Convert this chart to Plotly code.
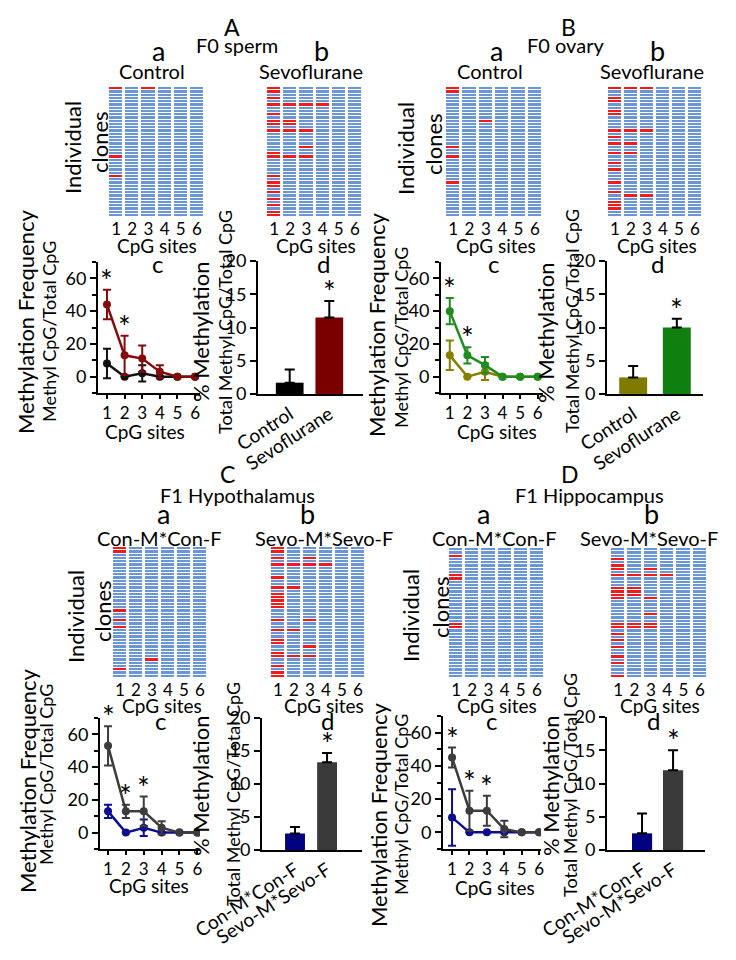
import plotly.graph_objects as go

# the page body keeps its 8px margin, so the figure is drawn 8px in from the corner
PAGE_W, PAGE_H, BODY = 736, 960, 8
W, H = PAGE_W - BODY, PAGE_H - BODY
FONT = "Lato"

sites = [1, 2, 3, 4, 5, 6]
n_clones = 40

# methylated clones (row index, 0 = top) for each CpG site, per clone map
A_ctrl_red = {1: [0, 21, 27], 3: [0]}
A_sevo_red = {1: [0, 1, 3, 5, 8, 10, 11, 13, 20, 21, 27, 29, 30, 32, 34, 36, 38, 39],
              2: [5, 10, 11, 13, 21], 3: [5, 13, 18, 21], 4: [5]}
B_ctrl_red = {1: [0, 1, 18, 21, 29], 3: [10]}
B_sevo_red = {1: [0, 3, 4, 7, 8, 13, 15, 17, 20, 23, 25, 29, 32, 35, 36, 37],
              2: [0, 13, 17, 20, 33], 3: [0, 13, 33]}
C_ctrl_red = {1: [0, 1, 19, 22, 24, 37], 3: [34]}
C_sevo_red = {1: [0, 1, 3, 5, 9, 12, 14, 15, 16, 17, 18, 22, 25, 28, 29, 32, 33, 36, 38, 39],
              2: [5, 12, 25, 33], 3: [3, 5, 22, 30, 33], 4: [5]}
D_ctrl_red = {1: [2, 8, 9, 23, 24]}
D_sevo_red = {1: [3, 5, 6, 8, 12, 13, 14, 15, 23, 24, 26, 28, 30, 33, 35, 39],
              2: [8, 12, 13, 14, 23, 24], 3: [6, 8, 15, 20, 23, 24], 4: [8]}

# methylation frequency per CpG site (mean, error)
A_ctrl_mean = [8, 0, 2, 0, 0, 0]
A_ctrl_err = [9, 0, 5, 0, 0, 0]
A_sevo_mean = [44, 13, 11, 3, 0, 0]
A_sevo_err = [9, 12, 8, 4, 0, 0]
B_ctrl_mean = [13, 0, 3, 0, 0, 0]
B_ctrl_err = [9, 0, 5, 0, 0, 0]
B_sevo_mean = [40, 13, 7, 0, 0, 0]
B_sevo_err = [8, 5, 5, 0, 0, 0]
C_ctrl_mean = [13, 0, 3, 0, 0, 0]
C_ctrl_err = [4, 0, 5, 0, 0, 0]
C_sevo_mean = [53, 13, 13, 3, 0, 0]
C_sevo_err = [12, 4, 9, 4, 0, 0]
D_ctrl_mean = [9, 0, 0, 0, 0, 0]
D_ctrl_err = [17, 0, 0, 0, 0, 0]
D_sevo_mean = [45, 13, 13, 2, 0, 0]
D_sevo_err = [6, 12, 9, 5, 0, 0]

# total % methylation (mean, error)
F0_groups = ["Control", "Sevoflurane"]
F1_groups = ["Con-M*Con-F", "Sevo-M*Sevo-F"]
A_bar = [1.7, 11.5]
A_bar_err = [2.0, 2.5]
B_bar = [2.5, 10.0]
B_bar_err = [1.7, 1.3]
C_bar = [2.5, 13.3]
C_bar_err = [1.0, 1.4]
D_bar = [2.5, 12.0]
D_bar_err = [3.0, 3.0]

# significant sites (stars)
A_star_sites = [1, 2]
B_star_sites = [1, 2]
C_star_sites = [1, 2, 3]
D_star_sites = [1, 2, 3]

BLUE = "#6a96d6"
RED = "#f01c1c"


def px(x):
    return (x - BODY) / W


def py(y):
    return 1 - (y - BODY) / H


fig = go.Figure()
layout = {}
annotations = []
counter = [0]


def new_axes(box, xaxis, yaxis):
    counter[0] += 1
    n = counter[0]
    sx = "" if n == 1 else str(n)
    x0, x1, y0, y1 = box
    xaxis.update(domain=[px(x0), px(x1)], anchor="y" + sx, automargin=False)
    yaxis.update(domain=[py(y1), py(y0)], anchor="x" + sx, automargin=False)
    layout["xaxis" + sx] = xaxis
    layout["yaxis" + sx] = yaxis
    return "x" + sx, "y" + sx


def text(s, x, y, size, angle=0):
    annotations.append(dict(text=s, x=px(x), y=py(y), xref="paper", yref="paper",
                            xanchor="center", yanchor="middle",
                            showarrow=False, textangle=angle,
                            font=dict(size=size, color="black", family=FONT)))


def clone_map(box, red):
    z = [[1 if r in red.get(s, []) else 0 for s in sites] for r in range(n_clones)]
    xa, ya = new_axes(
        box,
        dict(range=[0.5, 6.5], tickvals=sites, showline=False, showgrid=False,
             zeroline=False, ticks="", tickfont=dict(size=17)),
        dict(range=[n_clones - 0.5, -0.5], visible=False),
    )
    fig.add_trace(go.Heatmap(z=z, x=sites, y=list(range(n_clones)), zmin=0, zmax=1,
                             colorscale=[[0, BLUE], [1, RED]], showscale=False,
                             xgap=3, ygap=1, hoverinfo="skip", xaxis=xa, yaxis=ya))


def freq_plot(box, xr, series, star_sites):
    xa, ya = new_axes(
        box,
        dict(range=xr, tickvals=sites, showline=True, linewidth=2, linecolor="black",
             ticks="outside", ticklen=4, tickwidth=2, tickcolor="black",
             showgrid=False, zeroline=False, tickfont=dict(size=17)),
        dict(range=[-10, 70], tick0=0, dtick=20, showline=True, linewidth=2,
             linecolor="black", ticks="outside", ticklen=6, tickwidth=2,
             tickcolor="black", showgrid=False, zeroline=False, tickfont=dict(size=18),
             minor=dict(dtick=10, tick0=0, ticks="outside", ticklen=4, tickwidth=2,
                        tickcolor="black")),
    )
    for mean, err, color in series:
        fig.add_trace(go.Scatter(
            x=sites, y=mean, mode="lines+markers", xaxis=xa, yaxis=ya,
            line=dict(color=color, width=2.5), marker=dict(color=color, size=8),
            error_y=dict(type="data", array=err, color=color, thickness=2, width=4),
            showlegend=False, hoverinfo="skip"))
    top = [max(s[0][i] + s[1][i] for s in series) for i in range(len(sites))]
    for s in star_sites:
        annotations.append(dict(text="*", x=s, y=top[s - 1], xref=xa, yref=ya,
                                xanchor="center", yanchor="bottom", showarrow=False,
                                yshift=-10, font=dict(size=30, color="black", family=FONT)))


def total_plot(box, xr, groups, vals, errs, colors, width):
    xa, ya = new_axes(
        box,
        dict(range=xr, tickvals=[0, 1], ticktext=groups, tickangle=-33,
             showline=True, linewidth=2, linecolor="black", ticks="",
             showgrid=False, zeroline=False, tickfont=dict(size=19)),
        dict(range=[0, 20], dtick=5, showline=True, linewidth=2, linecolor="black",
             ticks="outside", ticklen=6, tickwidth=2, tickcolor="black",
             showgrid=False, zeroline=False, tickfont=dict(size=18)),
    )
    fig.add_trace(go.Bar(
        x=[0, 1], y=vals, width=width, marker=dict(color=colors, line=dict(width=0)),
        error_y=dict(type="data", array=errs, arrayminus=[0, 0], symmetric=False,
                     color="black", thickness=2, width=5),
        xaxis=xa, yaxis=ya, showlegend=False, hoverinfo="skip"))
    annotations.append(dict(text="*", x=1, y=vals[1] + errs[1], xref=xa, yref=ya,
                            xanchor="center", yanchor="bottom", showarrow=False,
                            yshift=-10, font=dict(size=30, color="black", family=FONT)))


# ---- panel A: F0 sperm ------------------------------------------------------
clone_map((108, 205, 87, 217), A_ctrl_red)
clone_map((266, 363, 87, 217), A_sevo_red)
freq_plot((98, 200, 262, 393), [0.49, 6.28],
          [(A_ctrl_mean, A_ctrl_err, "#111111"), (A_sevo_mean, A_sevo_err, "#840b0b")],
          A_star_sites)
total_plot((258, 363, 261, 394), [-0.8, 1.85], F0_groups, A_bar, A_bar_err,
           ["#000000", "#7a0000"], 0.7)

# ---- panel B: F0 ovary ------------------------------------------------------
clone_map((445, 543, 87, 217), B_ctrl_red)
clone_map((607, 703, 87, 217), B_sevo_red)
freq_plot((441, 543, 262, 393), [0.5, 6.3],
          [(B_ctrl_mean, B_ctrl_err, "#858000"), (B_sevo_mean, B_sevo_err, "#1e8c1e")],
          B_star_sites)
total_plot((607, 703, 261, 394), [-0.6, 1.6], F0_groups, B_bar, B_bar_err,
           ["#7f7a00", "#0f800f"], 0.64)

# ---- panel C: F1 hypothalamus ---------------------------------------------------
clone_map((112, 208, 547, 678), C_ctrl_red)
clone_map((270, 366, 547, 678), C_sevo_red)
freq_plot((100, 200, 718, 849), [0.55, 6.15],
          [(C_ctrl_mean, C_ctrl_err, "#0d0d8f"), (C_sevo_mean, C_sevo_err, "#3c3c3c")],
          C_star_sites)
total_plot((262, 362, 718, 850), [-1.03, 2.09], F1_groups, C_bar, C_bar_err,
           ["#000080", "#3a3a3a"], 0.62)

# ---- panel D: F1 hippocampus ----------------------------------------------------
clone_map((448, 545, 548, 678), D_ctrl_red)
clone_map((610, 708, 548, 678), D_sevo_red)
freq_plot((443, 541, 716, 849), [0.48, 6.11],
          [(D_ctrl_mean, D_ctrl_err, "#0d0d8f"), (D_sevo_mean, D_sevo_err, "#3c3c3c")],
          D_star_sites)
total_plot((607, 705, 717, 850), [-1.13, 2.03], F1_groups, D_bar, D_bar_err,
           ["#000080", "#3a3a3a"], 0.65)

# ---- headings and axis captions -------------------------------------------------
for s, x, y, size in [
    ("A", 232, 27, 23), ("F0 sperm", 237, 45, 20),
    ("a", 158, 51, 27), ("Control", 152, 71, 20),
    ("b", 321, 51, 27), ("Sevoflurane", 311, 71, 20),
    ("B", 568, 27, 23), ("F0 ovary", 565, 45, 20),
    ("a", 497, 51, 27), ("Control", 490, 71, 20),
    ("b", 657, 51, 27), ("Sevoflurane", 652, 71, 20),
    ("C", 227, 474, 23), ("F1 Hypothalamus", 237, 495, 20),
    ("a", 163, 513, 27), ("Con-M*Con-F", 159, 538, 20),
    ("b", 307, 513, 27), ("Sevo-M*Sevo-F", 324, 538, 20),
    ("D", 570, 474, 23), ("F1 Hippocampus", 589, 495, 20),
    ("a", 483, 513, 27), ("Con-M*Con-F", 495, 538, 20),
    ("b", 651, 513, 27), ("Sevo-M*Sevo-F", 649, 538, 20),
    ("CpG sites", 157, 245, 19), ("CpG sites", 316, 245, 19),
    ("CpG sites", 496, 245, 19), ("CpG sites", 657, 245, 19),
    ("CpG sites", 162, 705, 19), ("CpG sites", 324, 705, 19),
    ("CpG sites", 497, 705, 19), ("CpG sites", 660, 705, 19),
    ("CpG sites", 145, 431, 19), ("CpG sites", 497, 431, 19),
    ("CpG sites", 149, 885, 19), ("CpG sites", 495, 887, 19),
    ("c", 157, 264, 24), ("d", 323, 264, 24),
    ("c", 493, 264, 24), ("d", 657, 264, 24),
    ("c", 160, 720, 24), ("d", 327, 720, 24),
    ("c", 491, 720, 24), ("d", 653, 720, 24),
]:
    text(s, x, y, size)

for s, x, y, size in [
    ("Individual", 72, 148, 22), ("clones", 100, 142, 22),
    ("Individual", 405, 148, 22), ("clones", 434, 144, 22),
    ("Individual", 75, 617, 22), ("clones", 102, 611, 22),
    ("Individual", 410, 616, 22), ("clones", 440, 607, 22),
    ("Methylation Frequency", 26, 322, 22), ("Methyl CpG/Total CpG", 49, 332, 18),
    ("Methylation Frequency", 377, 325, 22), ("Methyl CpG/Total CpG", 401, 338, 18),
    ("Methylation Frequency", 27, 781, 22), ("Methyl CpG/Total CpG", 46, 775, 18),
    ("Methylation Frequency", 378, 815, 22), ("Methyl CpG/Total CpG", 401, 805, 18),
    ("% Methylation", 200, 332, 22), ("Total Methyl CpG/Total CpG", 225, 322, 18),
    ("% Methylation", 545, 333, 22), ("Total Methyl CpG/Total CpG", 572, 321, 18),
    ("% Methylation", 200, 786, 22), ("Total Methyl CpG/Total CpG", 233, 794, 18),
    ("% Methylation", 550, 786, 22), ("Total Methyl CpG/Total CpG", 570, 785, 18),
]:
    text(s, x, y, size, angle=-90)

fig.update_layout(
    width=W, height=H,
    margin=dict(l=0, r=0, t=0, b=0, pad=0, autoexpand=False),
    paper_bgcolor="white", plot_bgcolor="white",
    font=dict(family=FONT, color="black"),
    showlegend=False,
    annotations=annotations,
    **layout,
)

fig.write_html("out.html")
